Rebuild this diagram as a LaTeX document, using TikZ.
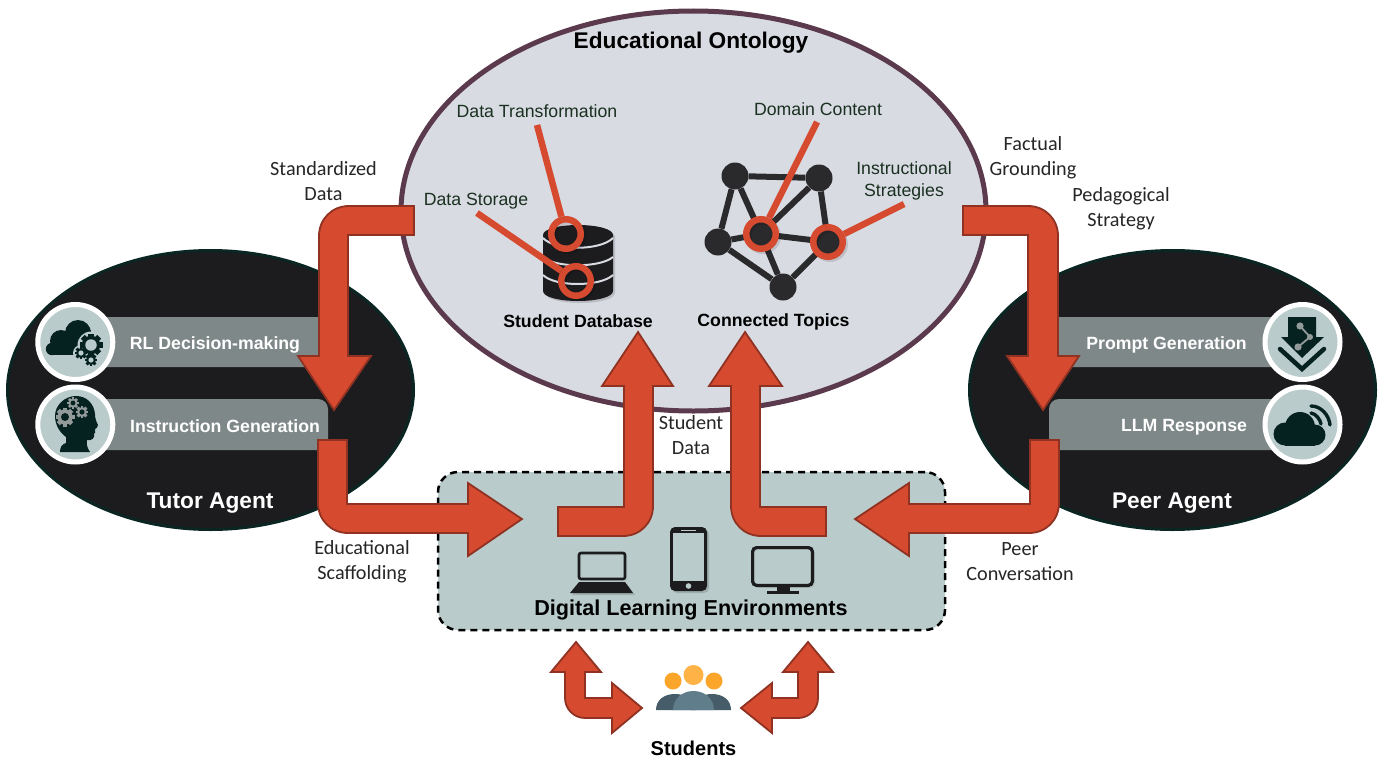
\documentclass[tikz,border=0pt]{standalone}
\usepackage{fontspec}
\setmainfont{Liberation Sans}
\newfontfamily\carl{Carlito}
\usetikzlibrary{shapes.geometric}
\definecolor{ared}{HTML}{D64A30}
\definecolor{aredd}{HTML}{8F3222}
\definecolor{agentk}{HTML}{1C1C1E}
\definecolor{agentedge}{HTML}{0A2522}
\definecolor{pillc}{HTML}{7F8888}
\definecolor{sage}{HTML}{B9CBCA}
\definecolor{ontof}{HTML}{D8DBE2}
\definecolor{ontoe}{HTML}{5A3A4C}
\definecolor{netk}{HTML}{2A2A2C}
\definecolor{inkg}{HTML}{1A3020}
\definecolor{iconk}{HTML}{062220}
\definecolor{orange1}{HTML}{FFB347}
\definecolor{orange2}{HTML}{FBA52B}
\definecolor{body1}{HTML}{465C68}
\definecolor{body2}{HTML}{607D8B}
\tikzset{
  fat/.style={fill=ared,draw=aredd,line width=1.8pt,line join=miter},
  agent/.style={ellipse,fill=agentk,draw=agentedge,line width=3pt,minimum width=406,minimum height=279,inner sep=0pt},
  pill/.style={fill=pillc,rounded corners=10pt},
  iconring/.style={circle,fill=sage,draw=white,line width=5pt,minimum size=75,inner sep=0pt},
  pilltxt/.style={text=white,font=\fontsize{17.7}{20}\selectfont\bfseries,inner sep=0pt},
  agenttxt/.style={text=white,font=\fontsize{22.7}{26}\selectfont\bfseries,inner sep=0pt},
  boldtxt/.style={text=black,font=\fontsize{17.7}{20}\selectfont\bfseries,inner sep=0pt},
  inner/.style={text=inkg,font=\fontsize{17.7}{22}\selectfont,align=center,inner sep=0pt},
  outer/.style={text=black!85,font=\carl\fontsize{20.2}{25}\selectfont,align=center,inner sep=0pt},
  softs/.style={preaction={draw=black,opacity=0.12,transform canvas={shift={(2pt,-2pt)}}}},
  softf/.style={preaction={fill=black,opacity=0.14,transform canvas={shift={(2pt,-2pt)}}}},
  redring/.style={circle,draw=ared,line width=6.5pt,minimum size=29.5,inner sep=0pt,softs},
  redline/.style={draw=ared,line width=6.5pt,softs},
  topic/.style={circle,fill=netk,minimum size=27,inner sep=0pt},
  netedge/.style={draw=netk,line width=6pt},
}
\newcommand{\gearic}[6]{% x y r teeth-colour hole-colour hole-ratio
  \foreach \a in {0,45,...,135}{
    \fill[#4,rotate around={\a:(#1,#2)}] ({#1-0.24*#3},{#2-#3}) rectangle ({#1+0.24*#3},{#2+#3});
  }
  \fill[#4] (#1,#2) circle ({0.8*#3});
  \fill[#5] (#1,#2) circle ({#6*#3});
}
\begin{document}
\begin{tikzpicture}[x=1pt,y=-1pt]
\useasboundingbox (0,0) rectangle (1396,760);
\fill[white] (0,0) rectangle (1396,760);

% main bubbles
\node[ellipse,fill=ontof,draw=ontoe,line width=5pt,minimum width=585,minimum height=400,inner sep=0pt] (onto) at (693.5,211) {};
\node[agent] (tutor) at (210.5,390) {};
\node[agent] (peer) at (1172.5,390) {};

% pills
\fill[pill] (75,317) rectangle (328,367);
\fill[pill] (75,399) rectangle (328,450);
\fill[pill] (1049,317) rectangle (1300,367);
\fill[pill] (1049,399) rectangle (1300,450);

% icon discs
\node[iconring] (i1) at (75.3,342) {};
\node[iconring] (i2) at (75.3,424.5) {};
\node[iconring] (i3) at (1302.5,342) {};
\node[iconring] (i4) at (1302.5,424.5) {};

% cloud + gears
\fill[iconk] (78,333) circle (13) (61,341) circle (11) (52,349) circle (6.2);
\fill[iconk] (52,343) rectangle (88,355.2);
\fill[iconk] (85,330) rectangle (91,345);
\fill[sage] (91,345) circle (13.5);
\fill[sage] (81,353) circle (8);
\fill[sage] (91,360) circle (8);
\gearic{91}{345}{11.5}{iconk}{sage}{0.5}
\gearic{81}{353}{6.2}{iconk}{sage}{0.42}
\gearic{91}{360}{6.2}{iconk}{sage}{0.42}

% head + gears
\fill[iconk] (60,452) .. controls (60,447) and (62,444) .. (66,443) -- (66,437) .. controls (59,432) and (55,424) .. (55,416) .. controls (55,405) and (65,396) .. (76,396) .. controls (87,396) and (94,404) .. (95,414) .. controls (95,418) and (96,421) .. (98,425) .. controls (98,428) and (96,428) .. (95,429) .. controls (96,432) and (95,433) .. (94,434) .. controls (95,438) and (92,441) .. (87,440) .. controls (86,445) and (88,449) .. (90,452) -- cycle;
\gearic{65}{417}{9.5}{pillc!85!white}{iconk}{0.42}
\gearic{73}{403}{5.8}{pillc!85!white}{iconk}{0.42}
\gearic{82}{412}{6.2}{pillc!85!white}{iconk}{0.42}

% download icon
\fill[iconk] (1288,317) -- (1316,317) -- (1316,337) -- (1324,337) -- (1302,358) -- (1281,337) -- (1288,337) -- cycle;
\draw[iconk,line width=4.5pt,line cap=round,line join=miter] (1280,349) -- (1302,369) -- (1324,349);
\draw[pillc!85!white,line width=1.8pt] (1300,326) -- (1310,337) -- (1298,347);
\fill[pillc!85!white] (1300,326) circle (3.6) (1310,337) circle (3) (1298,347) circle (3.6);

% cloud + signal
\fill[iconk] (1285,434) circle (11.5) (1300,427) circle (15) (1315,435) circle (10.5);
\fill[iconk] (1285,435) rectangle (1315,445.5);
\draw[iconk,line width=3.4pt,line cap=round] (1311,413) .. controls (1316,414) and (1320,419) .. (1321,424);
\draw[iconk,line width=3.4pt,line cap=round] (1311,406) .. controls (1321,406) and (1329,415) .. (1330,425);

% environment box
\node[rounded corners=20pt,fill=sage,draw=black,line width=2.5pt,dash pattern=on 7pt off 5pt,minimum width=507,minimum height=158,inner sep=0pt] (env) at (691.5,551) {};

% laptop
\draw[agentk,line width=2.6pt,rounded corners=2pt,softs] (579,553) rectangle (625,579);
\fill[agentk,softf] (579,582) -- (625,582) -- (633,593) -- (570,593) -- cycle;
% phone
\fill[agentk,rounded corners=5pt,softf] (670,527) rectangle (707,591);
\fill[sage] (673,533) rectangle (704,581);
\fill[sage] (688.5,586) circle (2.8);
\draw[sage,line width=1pt] (681,530.5) -- (696,530.5);
% monitor
\draw[agentk,line width=3.2pt,rounded corners=4pt,softs] (752.6,547.6) rectangle (812.4,585.4);
\fill[agentk] (777,587) rectangle (790,591);
\fill[agentk] (767,591) rectangle (799,593.5);

% students
\fill[body1] (656,710) .. controls (656,700) and (664,694) .. (675,694) .. controls (686,694) and (694,700) .. (696,710) -- cycle;
\fill[body1] (691,710) .. controls (693,700) and (701,694) .. (712,694) .. controls (723,694) and (731,700) .. (731,710) -- cycle;
\fill[body2] (673,710) .. controls (673,699) and (682,691) .. (693.5,691) .. controls (705,691) and (714,699) .. (714,710) -- cycle;
\node[circle,fill=orange1,minimum size=20,inner sep=0pt] (h0) at (693.5,675) {};
\node[circle,fill=orange2,minimum size=17,inner sep=0pt] (h1) at (673,681) {};
\node[circle,fill=orange2,minimum size=17,inner sep=0pt] (h2) at (714,681) {};

% database
\fill[agentk,softf] (543,235) .. controls (543,229) and (559,225) .. (578,225) .. controls (597,225) and (613,229) .. (613,235) -- (613,291) .. controls (613,297) and (597,301) .. (578,301) .. controls (559,301) and (543,297) .. (543,291) -- cycle;
\draw[ontof,line width=2pt] (543,238) .. controls (555,251) and (600,251) .. (613,238);
\draw[ontof,line width=2pt] (543,257) .. controls (555,268) and (600,268) .. (613,257);
\draw[ontof,line width=2pt] (543,275) .. controls (555,287) and (600,287) .. (613,275);

% topic network
\node[topic] (ta) at (735,176) {};
\node[topic] (tb) at (819,178) {};
\node[topic] (tc) at (718,242) {};
\node[topic] (td) at (761,234) {};
\node[topic] (te) at (828,242) {};
\node[topic] (tf) at (783,287) {};
\draw[netedge] (ta)--(tb) (ta)--(tc) (ta)--(td) (tb)--(td) (tb)--(te) (tc)--(td) (tc)--(tf) (td)--(te) (td)--(tf) (te)--(tf);

% red call-outs
\coordinate (c1) at (537,125);
\coordinate (c2) at (477,213);
\coordinate (c3) at (817,122);
\coordinate (c4) at (904,204);
\node[redring] (r1) at (566,234) {};
\node[redring] (r2) at (576,281) {};
\node[redring] (r3) at (761,234) {};
\node[redring] (r4) at (828,242) {};
\draw[redline] (c1) -- (r1);
\draw[redline] (c2) -- (r2);
\draw[redline] (c3) -- (r3);
\draw[redline] (c4) -- (r4);

% fat arrows
\draw[fat] (414,206) -- (349,206) .. controls (332,206) and (319,219) .. (319,236) -- (319,356) -- (298,356) -- (334,410) -- (371,356) -- (348,356) -- (348,235) -- (414,235) -- cycle;
\draw[fat] (318,440) -- (318,503) .. controls (318,520) and (331,533) .. (348,533) -- (468,533) -- (468,556) -- (522,519) -- (468,483) -- (468,504) -- (347,504) -- (347,440) -- cycle;
\draw[fat] (963,206) -- (1028,206) .. controls (1045,206) and (1058,219) .. (1058,236) -- (1058,356) -- (1079,356) -- (1043,410) -- (1007,356) -- (1028,356) -- (1028,235) -- (963,235) -- cycle;
\draw[fat] (1059,440) -- (1059,503) .. controls (1059,520) and (1046,533) .. (1029,533) -- (909,533) -- (909,556) -- (855,519) -- (909,483) -- (909,504) -- (1030,504) -- (1030,440) -- cycle;
\draw[fat] (558,507) -- (624,507) -- (624,386) -- (602,386) -- (638,332) -- (673,386) -- (653,386) -- (653,506) .. controls (653,523) and (640,536) .. (623,536) -- (558,536) -- cycle;
\draw[fat] (826,507) -- (760,507) -- (760,386) -- (782,386) -- (745,332) -- (709,386) -- (731,386) -- (731,506) .. controls (731,523) and (744,536) .. (761,536) -- (826,536) -- cycle;
\draw[fat] (576,642) -- (601,672) -- (585,672) -- (585,698) -- (612,698) -- (612,683) -- (642,708) -- (612,733) -- (612,718) -- (585,718) .. controls (574,718) and (565,709) .. (565,698) -- (565,672) -- (551,672) -- cycle;
\draw[fat] (808,642) -- (833,672) -- (818,672) -- (818,698) .. controls (818,709) and (809,718) .. (798,718) -- (772,718) -- (772,733) -- (741,708) -- (772,683) -- (772,698) -- (798,698) -- (798,672) -- (783,672) -- cycle;

% labels
\node[text=black,font=\fontsize{22.7}{25}\selectfont\bfseries,inner sep=0pt] (l1) at (691,43) {Educational Ontology};
\node[inner] (l2) at (537,111) {Data Transformation};
\node[inner] (l3) at (476,201) {Data Storage};
\node[inner] (l4) at (818,109) {Domain Content};
\node[inner] (l5) at (904,181) {Instructional\\Strategies};
\node[boldtxt] (l6) at (578,321) {Student Database};
\node[boldtxt] (l7) at (773.5,322) {Connected Topics};
\node[pilltxt] (l8) at (215,345) {RL Decision-making};
\node[pilltxt] (l9) at (225,426) {Instruction Generation};
\node[pilltxt] (l10) at (1166.5,345) {Prompt Generation};
\node[pilltxt] (l11) at (1184,427) {LLM Response};
\node[agenttxt] (l12) at (210,503) {Tutor Agent};
\node[agenttxt] (l13) at (1172,503) {Peer Agent};
\node[text=black,font=\fontsize{21.6}{24}\selectfont\bfseries,inner sep=0pt] (l14) at (691,610) {Digital Learning Environments};
\node[text=black,font=\fontsize{20}{22}\selectfont\bfseries,inner sep=0pt] (l15) at (693.5,748) {Students};
\node[outer] (o1) at (323.5,181.5) {Standardized\\Data};
\node[outer] (o2) at (1033,158) {Factual\\Grounding};
\node[outer] (o3) at (1121,208.5) {Pedagogical\\Strategy};
\node[outer] (o4) at (691,435) {Student\\Data};
\node[outer] (o5) at (362,562) {Educational\\Scaffolding};
\node[outer] (o6) at (1020,561.5) {Peer\\Conversation};
\end{tikzpicture}
\end{document}
